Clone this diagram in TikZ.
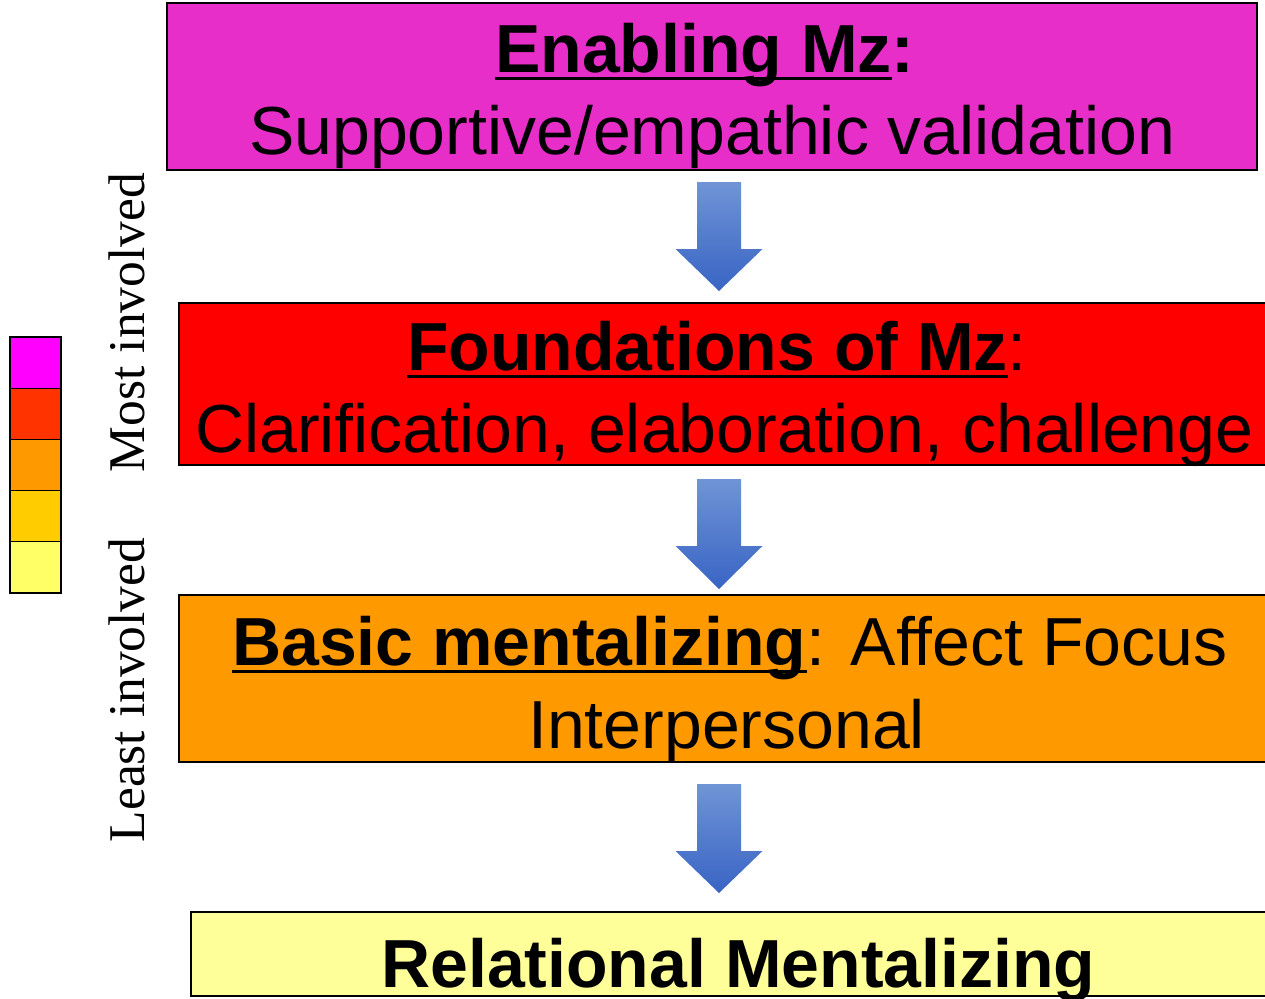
\documentclass[tikz,border=0pt]{standalone}
\usepackage{fontspec}
\setmainfont{Liberation Sans}
\newfontfamily\serifrot{Liberation Serif}
\usetikzlibrary{calc}
\definecolor{magbox}{HTML}{E82EC8}
\definecolor{redbox}{HTML}{FF0000}
\definecolor{orgbox}{HTML}{FF9900}
\definecolor{yelbox}{HTML}{FFFF99}
\definecolor{cmag}{HTML}{FF00FF}
\definecolor{cred}{HTML}{FF3300}
\definecolor{corg}{HTML}{FF9900}
\definecolor{cgold}{HTML}{FFCC00}
\definecolor{cyel}{HTML}{FFFF66}
\definecolor{arrtop}{HTML}{7094D6}
\definecolor{arrbot}{HTML}{3864C4}
\newcommand{\ulx}[1]{\setbox0\hbox{#1}\rlap{\rule[-7.5pt]{\wd0}{3pt}}\box0}
\newcommand{\downarr}[4]{%
  \shade[top color=arrtop,bottom color=arrbot]
    (#1-22,#2) -- (#1+22,#2) -- (#1+22,#3) -- (#1+43.5,#3) -- (#1,#4)
    -- (#1-43.5,#3) -- (#1-22,#3) -- cycle;}
\tikzset{
  box/.style={draw=black, line width=1.3pt, rectangle, inner sep=0pt},
  cell/.style={draw=black, line width=1.2pt, rectangle, inner sep=0pt,
    minimum width=51pt, minimum height=51.2pt},
  txt/.style={inner sep=0pt, anchor=base west, font=\fontsize{68}{82}\selectfont},
  rot/.style={inner sep=0pt, anchor=base, rotate=90,
    font=\serifrot\fontsize{51.5}{60}\selectfont}
}
\begin{document}
\begin{tikzpicture}[x=1pt,y=-1pt]
\useasboundingbox (0,0) rectangle (1265,998);
\fill[white] (0,0) rectangle (1265,998);
\clip (0,0) rectangle (1265,998);

% boxes
\node[box, fill=magbox, minimum width=1090pt, minimum height=167pt] (b1) at (712,86.5) {};
\node[box, fill=redbox, minimum width=1096pt, minimum height=162pt] (b2) at (727,384) {};
\node[box, fill=orgbox, minimum width=1096pt, minimum height=167pt] (b3) at (727,678.5) {};
\node[box, fill=yelbox, minimum width=1100pt, minimum height=84pt] (b4) at (741,954) {};

% texts
\node[txt] (t1a) at (495,72) {\bfseries\ulx{Enabling Mz}:};
\node[txt] (t1b) at (249,154) {Supportive/empathic validation};
\node[txt] (t2a) at (407,370) {\ulx{\bfseries Foundations of Mz}:};
\node[txt] (t2b) at (195,452) {Clarification, elaboration, challenge};
\node[txt] (t3a) at (232,665) {\ulx{\bfseries Basic mentalizing}: Affect Focus};
\node[txt] (t3b) at (528,748) {Interpersonal};
\node[txt] (t4a) at (381,987) {\bfseries Relational Mentalizing};

% arrows
\downarr{719}{182}{249}{291}
\downarr{719}{479}{546}{589}
\downarr{719}{784}{851}{893}

% colour scale
\node[cell, fill=cmag]  (c1) at (35.5,362.6) {};
\node[cell, fill=cred]  (c2) at (35.5,413.8) {};
\node[cell, fill=corg]  (c3) at (35.5,465.0) {};
\node[cell, fill=cgold] (c4) at (35.5,516.2) {};
\node[cell, fill=cyel]  (c5) at (35.5,567.4) {};

% side labels
\node[rot] (most) at (144,322.5) {Most involved};
\node[rot] (least) at (144,690) {Least involved};
\end{tikzpicture}
\end{document}
